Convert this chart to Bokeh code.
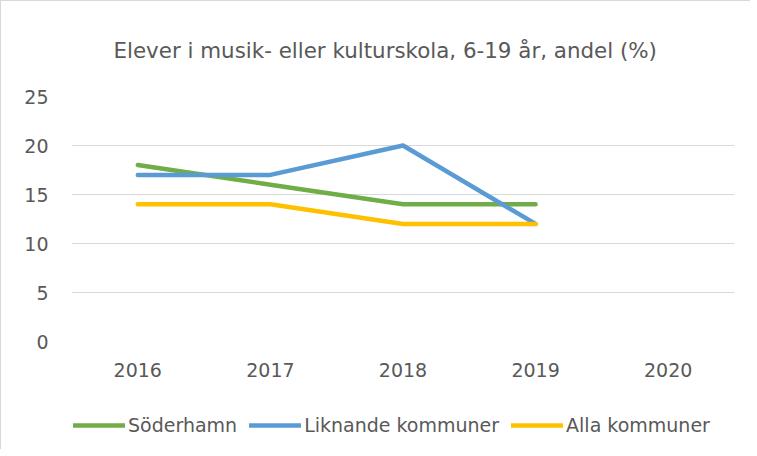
from bokeh.plotting import figure
from bokeh.layouts import column
from bokeh.models import Legend, LegendItem, FactorRange, Range1d, FixedTicker
from bokeh.embed import file_html
from bokeh.resources import INLINE

years = ["2016", "2017", "2018", "2019", "2020"]
years_data = ["2016", "2017", "2018", "2019"]
soderhamn = [18, 16, 14, 14]
liknande = [17, 17, 20, 12]
alla = [14, 14, 12, 12]
y_ticks = [0, 5, 10, 15, 20, 25]
series_names = ["Söderhamn", "Liknande kommuner", "Alla kommuner"]
series_colors = ["#70AD47", "#5B9BD5", "#FFC000"]

FONT = "DejaVu Sans"
TXT = "#595959"
GRID = "#d9d9d9"

p = figure(width=749, height=400, x_range=FactorRange(*years, range_padding=0),
           y_range=Range1d(0, 25), output_backend="svg", toolbar_location=None,
           min_border_left=70, min_border_right=16, min_border_top=95, min_border_bottom=60)
p.outline_line_color = None
p.title.text = "Elever i musik- eller kulturskola, 6-19 år, andel (%)"
p.title.align = "left"
p.title.offset = 42
p.title.text_font = FONT
p.title.text_font_style = "normal"
p.title.text_font_size = "21.4px"
p.title.text_color = TXT
p.title.standoff = 67

p.yaxis.ticker = FixedTicker(ticks=y_ticks)
for ax in (p.xaxis, p.yaxis):
    ax.axis_line_color = None
    ax.major_tick_line_color = None
    ax.minor_tick_line_color = None
    ax.major_tick_out = 0
    ax.major_tick_in = 0
    ax.major_label_text_font = FONT
    ax.major_label_text_font_size = "19px"
    ax.major_label_text_color = TXT
p.yaxis.major_label_standoff = 23
p.xaxis.major_label_standoff = 21
p.xgrid.grid_line_color = None
p.ygrid.grid_line_color = GRID
p.ygrid.grid_line_width = 1

lw = 4.5
for vals, col in zip([soderhamn, liknande, alla], series_colors):
    p.line(years_data, vals, line_color=col, line_width=lw, line_cap="round", line_join="round")

# legend strip below the chart
p2 = figure(width=749, height=48, output_backend="svg", toolbar_location=None,
            x_range=Range1d(0, 1), y_range=Range1d(0, 1),
            x_axis_location=None, y_axis_location=None,
            min_border_left=0, min_border_right=0, min_border_top=0, min_border_bottom=0)
p2.outline_line_color = None
p2.xgrid.grid_line_color = None
p2.ygrid.grid_line_color = None
items = []
for name, col in zip(series_names, series_colors):
    r = p2.line([0.0], [float("nan")], line_color=col, line_width=lw, line_cap="round")
    items.append(LegendItem(label=name, renderers=[r]))
legend = Legend(items=items, orientation="horizontal", location=(2, 13),
                label_text_font=FONT, label_text_font_size="19px", label_text_color=TXT,
                glyph_width=52, glyph_height=20, label_standoff=3, spacing=12,
                border_line_color=None, background_fill_alpha=0, margin=0, padding=0)
p2.add_layout(legend)

layout = column(p, p2, spacing=0)
layout.styles = {"border-left": "1px solid #d9d9d9", "border-top": "1px solid #d9d9d9"}
open("out.html", "w").write(file_html(layout, INLINE))
